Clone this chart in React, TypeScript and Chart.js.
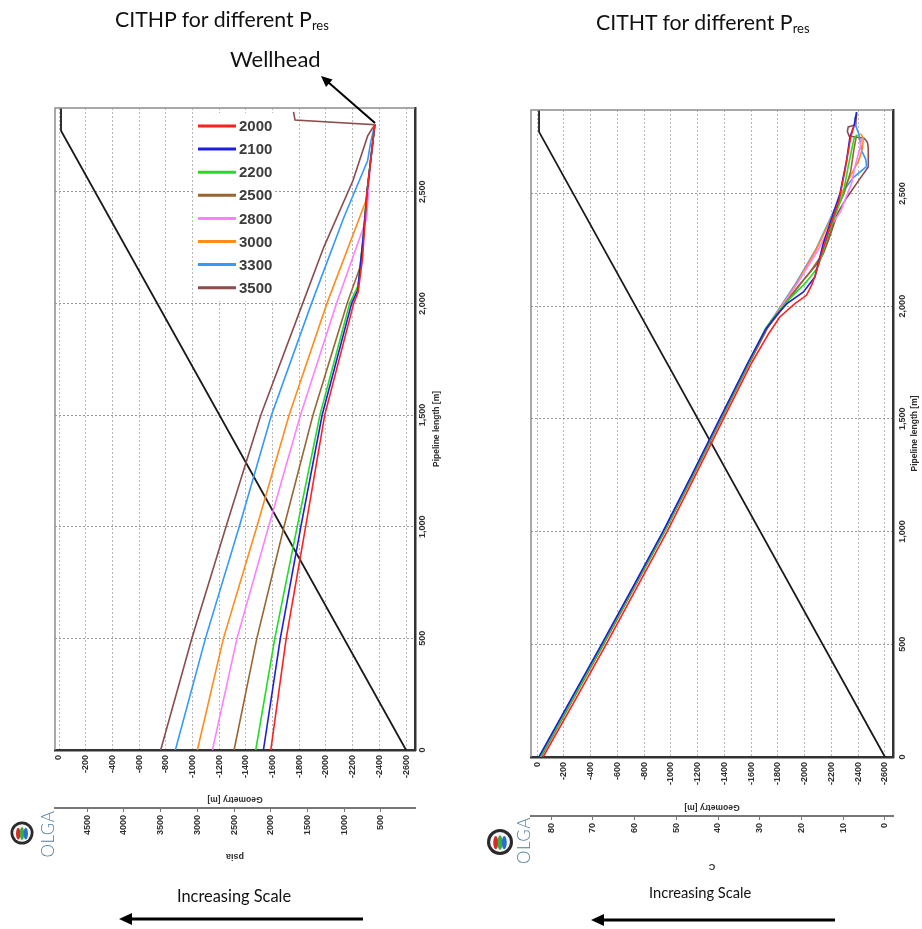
import React, { useEffect, useRef } from "react";
import { Chart, registerables } from "chart.js";

Chart.register(...registerables);

// Reservoir pressure cases (legend labels) and line colours
const PRES_LABELS = ["2000", "2100", "2200", "2500", "2800", "3000", "3300", "3500"];
const PRES_COLORS = ["#ff2020", "#1e1ee0", "#22dd22", "#996633", "#ff80ff", "#ff8c1a", "#3399ff", "#8b4c4c"];

// Tubing pressure [psia] along the pipeline length [m]
const PLEN_2000 = [0, 500, 1000, 1500, 2000, 2050, 2200, 2500, 2800];
const PSIA_2000 = [2000, 1790, 1525, 1265, 870, 810, 750, 688, 583];
const PLEN_2100 = [0, 500, 1000, 1500, 2000, 2060, 2300, 2500, 2800];
const PSIA_2100 = [2100, 1870, 1590, 1300, 898, 815, 740, 688, 583];
const PLEN_2200 = [0, 500, 1000, 1500, 2000, 2080, 2300, 2500, 2800];
const PSIA_2200 = [2205, 1945, 1640, 1330, 925, 810, 740, 690, 583];
const PLEN_2500 = [0, 500, 1000, 1500, 2000, 2180, 2500, 2800];
const PSIA_2500 = [2500, 2190, 1820, 1425, 960, 765, 690, 583];
const PLEN_2800 = [0, 500, 1000, 1500, 2000, 2380, 2600, 2800];
const PSIA_2800 = [2795, 2460, 2030, 1595, 1105, 695, 650, 583];
const PLEN_3000 = [0, 500, 1000, 1500, 2000, 2480, 2650, 2800];
const PSIA_3000 = [3000, 2645, 2190, 1750, 1235, 680, 640, 583];
const PLEN_3300 = [0, 500, 1000, 1500, 2000, 2380, 2640, 2720, 2800];
const PSIA_3300 = [3300, 2890, 2430, 1990, 1445, 1010, 680, 640, 583];
const PLEN_3500 = [0, 500, 1000, 1500, 2000, 2250, 2550, 2750, 2800, 2821, 2858];
const PSIA_3500 = [3500, 3075, 2610, 2135, 1565, 1280, 880, 680, 583, 1670, 1690];

// Tubing temperature [C] along the pipeline length [m]
const TLEN_2000 = [0, 250, 500, 750, 1000, 1250, 1500, 1750, 1880, 1952, 2011, 2048, 2092, 2130, 2220, 2350, 2470, 2600, 2750, 2800];
const TEMP_2000 = [81.9, 74.3, 66.8, 59.5, 52.2, 45.4, 38.7, 31.9, 27.8, 25.2, 21.6, 18.8, 17.6, 16.8, 15.4, 13.2, 11.0, 9.6, 8.2, 7.4];
const TLEN_2100 = [0, 250, 500, 750, 1000, 1250, 1500, 1750, 1900, 1960, 2011, 2062, 2129, 2277, 2410, 2498, 2646, 2749, 2801, 2860];
const TEMP_2100 = [82.9, 75.4, 67.9, 60.5, 53.2, 46.3, 39.6, 32.8, 28.5, 26.0, 23.5, 19.6, 16.8, 14.8, 12.4, 10.8, 9.2, 8.4, 7.4, 6.8];
const TLEN_2200 = [0, 250, 500, 750, 1000, 1250, 1500, 1750, 1900, 1960, 2030, 2100, 2140, 2170, 2230, 2330, 2420, 2500, 2620, 2745, 2760];
const TEMP_2200 = [82.6, 75.1, 67.6, 60.3, 52.9, 46.1, 39.4, 32.6, 28.6, 26.2, 23.0, 19.2, 17.4, 16.2, 15.0, 13.4, 11.6, 10.0, 8.8, 7.4, 6.6];
const TLEN_2500 = [0, 250, 500, 750, 1000, 1250, 1500, 1750, 1900, 1960, 2050, 2150, 2230, 2270, 2330, 2420, 2500, 2600, 2700, 2760];
const TEMP_2500 = [82.4, 74.9, 67.4, 60.1, 52.8, 45.9, 39.2, 32.4, 28.2, 26.0, 22.4, 18.0, 15.0, 14.2, 13.0, 11.8, 9.8, 8.2, 7.4, 6.8];
const TLEN_2800 = [0, 250, 500, 750, 1000, 1250, 1500, 1750, 1900, 1960, 2100, 2250, 2350, 2420, 2480, 2545, 2620, 2700, 2745];
const TEMP_2800 = [82.5, 75.0, 67.5, 60.2, 52.9, 46.0, 39.3, 32.5, 28.3, 26.2, 21.0, 16.0, 13.2, 10.6, 9.4, 8.0, 7.2, 6.0, 5.6];
const TLEN_3000 = [0, 250, 500, 750, 1000, 1250, 1500, 1750, 1900, 1960, 2100, 2250, 2400, 2500, 2580, 2650, 2700, 2745, 2765];
const TEMP_3000 = [82.7, 75.2, 67.7, 60.4, 53.0, 46.1, 39.4, 32.7, 28.5, 26.3, 21.2, 16.5, 12.6, 10.4, 8.2, 6.2, 5.4, 5.2, 5.8];
const TLEN_3300 = [0, 250, 500, 750, 1000, 1250, 1500, 1750, 1900, 1960, 2100, 2250, 2400, 2500, 2570, 2620, 2650, 2690, 2760, 2800, 2840];
const TEMP_3300 = [82.8, 75.3, 67.8, 60.4, 53.1, 46.2, 39.5, 32.8, 28.6, 26.4, 21.4, 16.6, 12.8, 10.4, 7.6, 4.4, 4.6, 5.6, 6.2, 7.0, 7.2];
const TLEN_3500 = [0, 250, 500, 750, 1000, 1250, 1500, 1750, 1900, 1960, 2100, 2180, 2232, 2300, 2410, 2480, 2560, 2617, 2700, 2727, 2745, 2750, 2755, 2775, 2795, 2805, 2860];
const TEMP_3500 = [82.6, 75.1, 67.6, 60.2, 52.9, 46.0, 39.3, 32.5, 28.4, 25.8, 20.2, 16.6, 14.8, 13.4, 11.4, 9.2, 6.2, 4.0, 4.0, 4.2, 5.0, 7.0, 8.6, 9.0, 8.8, 7.0, 6.8];

// Well geometry: elevation [m] against pipeline length [m]
const GEO_LEN = [0, 2773, 2880];
const GEO_ELEV = [-2600, -15, -15];

// Axis ticks
const LENGTH_TICKS = [0, 500, 1000, 1500, 2000, 2500];
const GEO_TICKS = [0, -200, -400, -600, -800, -1000, -1200, -1400, -1600, -1800, -2000, -2200, -2400, -2600];
const PSIA_TICKS = [500, 1000, 1500, 2000, 2500, 3000, 3500, 4000, 4500];
const TEMP_TICKS = [0, 10, 20, 30, 40, 50, 60, 70, 80];

const PSIA_LENS = [PLEN_2000, PLEN_2100, PLEN_2200, PLEN_2500, PLEN_2800, PLEN_3000, PLEN_3300, PLEN_3500];
const PSIA_VALS = [PSIA_2000, PSIA_2100, PSIA_2200, PSIA_2500, PSIA_2800, PSIA_3000, PSIA_3300, PSIA_3500];
const TEMP_LENS = [TLEN_2000, TLEN_2100, TLEN_2200, TLEN_2500, TLEN_2800, TLEN_3000, TLEN_3300, TLEN_3500];
const TEMP_VALS = [TEMP_2000, TEMP_2100, TEMP_2200, TEMP_2500, TEMP_2800, TEMP_3000, TEMP_3300, TEMP_3500];

const TICK_FONT = 'bold 9px "Liberation Sans", Arial, sans-serif';
const TITLE_FONT = 'bold 8.5px "Liberation Sans", Arial, sans-serif';
const TICK_COLOR = "#2e2e2e";

type PanelProps = {
  left: number;
  lens: number[][];
  vals: number[][];
  valTicks: number[];
  valMin: number;
  valMax: number;
  valTitle: string;
  geoMin: number;
  geoMax: number;
  lenMax: number;
  padding: { left: number; top: number; right: number; bottom: number };
  yWidth: number;
  geoHeight: number;
  valHeight: number;
  legend: boolean;
};

// Rotated side labels, upside-down axis titles and the plot frame
const axisTextPlugin = {
  id: "axisText",
  afterDraw(chart: any, _args: any, opts: any) {
    const { ctx, chartArea } = chart;
    const y = chart.scales.y;
    const geo = chart.scales.geo;
    const val = chart.scales.val;
    ctx.save();
    ctx.strokeStyle = "#8c8c8c";
    ctx.lineWidth = 1.5;
    ctx.beginPath();
    ctx.moveTo(chartArea.left, chartArea.bottom);
    ctx.lineTo(chartArea.left, chartArea.top);
    ctx.lineTo(chartArea.right, chartArea.top);
    ctx.stroke();

    ctx.fillStyle = TICK_COLOR;
    ctx.textAlign = "center";
    ctx.textBaseline = "middle";
    ctx.font = TICK_FONT;
    for (const t of y.ticks) {
      const py = y.getPixelForValue(t.value);
      ctx.save();
      ctx.translate(chartArea.right + opts.tickGap, py);
      ctx.rotate(-Math.PI / 2);
      ctx.fillText(Number(t.value).toLocaleString("en-US"), 0, 0);
      ctx.restore();
    }
    ctx.font = TITLE_FONT;
    ctx.save();
    ctx.translate(chartArea.right + opts.titleGap, (chartArea.top + chartArea.bottom) / 2);
    ctx.rotate(-Math.PI / 2);
    ctx.fillText("Pipeline length [m]", 0, 0);
    ctx.restore();

    const cx = (chartArea.left + chartArea.right) / 2;
    ctx.save();
    ctx.translate(cx, geo.top + opts.geoTitleGap);
    ctx.rotate(Math.PI);
    ctx.fillText("Geometry [m]", 0, 0);
    ctx.restore();
    ctx.font = 'bold 9px "Liberation Sans", Arial, sans-serif';
    ctx.save();
    ctx.translate(cx, val.top + opts.valTitleGap);
    ctx.rotate(Math.PI);
    ctx.fillText(opts.valTitle, 0, 0);
    ctx.restore();
    ctx.restore();
  },
};

// Legend box inside the plot area
const legendBoxPlugin = {
  id: "legendBox",
  beforeDatasetsDraw(chart: any, _args: any, opts: any) {
    if (!opts.show) return;
    const { ctx, chartArea } = chart;
    const x0 = chartArea.left + 139;
    const y0 = chartArea.top + 5;
    ctx.save();
    ctx.fillStyle = "#fff";
    ctx.fillRect(x0, y0, 79, 188);
    ctx.font = 'bold 15px "Liberation Sans", Arial, sans-serif';
    ctx.textBaseline = "middle";
    ctx.textAlign = "left";
    let row = 0;
    chart.data.datasets.forEach((ds: any) => {
      if (!ds.label) return;
      const yy = y0 + 13 + row * 23.1;
      ctx.strokeStyle = ds.borderColor;
      ctx.lineWidth = 3;
      ctx.beginPath();
      ctx.moveTo(x0 + 4, yy);
      ctx.lineTo(x0 + 42, yy);
      ctx.stroke();
      ctx.fillStyle = "#3c3c3c";
      ctx.fillText(ds.label, x0 + 45, yy + 1);
      row += 1;
    });
    ctx.restore();
  },
};

function fixedTicks(values: number[]) {
  return (scale: any) => {
    scale.ticks = values.map((v) => ({ value: v }));
  };
}

function Panel(props: PanelProps) {
  const ref = useRef<HTMLCanvasElement | null>(null);
  useEffect(() => {
    if (!ref.current) return;
    const datasets: any[] = props.lens.map((len, i) => ({
      label: PRES_LABELS[i],
      data: len.map((L, k) => ({ x: props.vals[i][k], y: L })),
      xAxisID: "val",
      yAxisID: "y",
      borderColor: PRES_COLORS[i],
      borderWidth: 1.6,
      pointRadius: 0,
      fill: false,
      tension: 0,
    }));
    datasets.push({
      label: "",
      data: GEO_LEN.map((L, k) => ({ x: GEO_ELEV[k], y: L })),
      xAxisID: "geo",
      yAxisID: "y",
      borderColor: "#1a1a1a",
      borderWidth: 1.8,
      pointRadius: 0,
      fill: false,
      tension: 0,
    });
    const rotatedTicks = {
      minRotation: 90,
      maxRotation: 90,
      autoSkip: false,
      color: TICK_COLOR,
      font: { family: '"Liberation Sans", Arial, sans-serif', size: 9, weight: "bold" },
      callback: (v: any) => String(v),
    };
    const chart = new Chart(ref.current, {
      type: "line",
      data: { datasets },
      plugins: [legendBoxPlugin, axisTextPlugin],
      options: {
        animation: false,
        responsive: false,
        devicePixelRatio: 1,
        events: [],
        layout: { padding: props.padding, autoPadding: false },
        plugins: {
          legend: { display: false },
          tooltip: { enabled: false },
          legendBox: { show: props.legend },
          axisText: {
            tickGap: props.legend ? 8 : 10,
            titleGap: 22,
            geoTitleGap: props.legend ? 49 : 50,
            valTitleGap: props.legend ? 48 : 50,
            valTitle: props.valTitle,
          },
        } as any,
        scales: {
          geo: {
            type: "linear",
            axis: "x",
            position: "bottom",
            reverse: true,
            min: props.geoMin,
            max: props.geoMax,
            weight: 0,
            afterBuildTicks: fixedTicks(GEO_TICKS),
            afterFit: (s: any) => {
              s.height = props.geoHeight;
            },
            ticks: { ...rotatedTicks, padding: 5 },
            grid: { color: "#b8b8b8", lineWidth: 1, drawTicks: false },
            border: { color: "#333", width: 2.5, dash: [2, 2] },
          },
          val: {
            type: "linear",
            axis: "x",
            position: "bottom",
            reverse: true,
            min: props.valMin,
            max: props.valMax,
            weight: 1,
            afterBuildTicks: fixedTicks(props.valTicks),
            afterFit: (s: any) => {
              s.height = props.valHeight;
            },
            ticks: { ...rotatedTicks, padding: 3 },
            grid: { drawOnChartArea: false, drawTicks: true, tickLength: 4, color: "#777" },
            border: { color: "#777", width: 2 },
          },
          y: {
            type: "linear",
            position: "right",
            min: 0,
            max: props.lenMax,
            afterBuildTicks: fixedTicks(LENGTH_TICKS),
            afterFit: (s: any) => {
              s.width = props.yWidth;
            },
            ticks: { display: false },
            grid: { color: "#9a9a9a", lineWidth: 1, drawTicks: false },
            border: { color: "#333", width: 2.5, dash: [2, 2] },
          },
        } as any,
      },
    } as any);
    return () => chart.destroy();
  }, []);
  return (
    <canvas
      ref={ref}
      width={461}
      height={929}
      style={{ position: "absolute", left: props.left, top: 0, width: 461, height: 929 }}
    />
  );
}

function OlgaLogo({ cx, cy, r, tx, ty }: { cx: number; cy: number; r: number; tx: number; ty: number }) {
  const k = r / 11;
  return (
    <g>
      <circle cx={cx} cy={cy} r={r} fill="#2a2a2a" />
      <circle cx={cx} cy={cy} r={r - 2.6 * k} fill="#f4f4f4" />
      <ellipse cx={cx - 3.6 * k} cy={cy + 0.5 * k} rx={2.1 * k} ry={5.6 * k} fill="#d42a2a" />
      <ellipse cx={cx} cy={cy + 0.5 * k} rx={2.1 * k} ry={6.2 * k} fill="#3cae3c" />
      <ellipse cx={cx + 3.6 * k} cy={cy + 0.5 * k} rx={2.1 * k} ry={5.6 * k} fill="#2a6fd0" />
      <text
        x={tx}
        y={ty}
        transform={`rotate(-90 ${tx} ${ty})`}
        textAnchor="middle"
        dominantBaseline="central"
        fill="#4f7f98"
        fontFamily="Lato, sans-serif"
        fontWeight={300}
        fontSize={17}
        letterSpacing={0.5}
      >
        OLGA
      </text>
    </g>
  );
}

export default function App() {
  const textBase: React.CSSProperties = {
    position: "absolute",
    fontFamily: "Lato, sans-serif",
    color: "#111",
    whiteSpace: "nowrap",
    lineHeight: 1,
  };
  return (
    <div style={{ position: "absolute", left: 0, top: 0, width: 922, height: 929, background: "#fff", overflow: "hidden" }}>
      <Panel
        left={0}
        lens={PSIA_LENS}
        vals={PSIA_VALS}
        valTicks={PSIA_TICKS}
        valMin={35}
        valMax={4940}
        valTitle="psia"
        geoMin={-2667}
        geoMax={30}
        lenMax={2875}
        padding={{ left: 55, top: 108, right: 16, bottom: 59 }}
        yWidth={30}
        geoHeight={58}
        valHeight={62}
        legend={true}
      />
      <Panel
        left={461}
        lens={TEMP_LENS}
        vals={TEMP_VALS}
        valTicks={TEMP_TICKS}
        valMin={-1.92}
        valMax={84.8}
        valTitle="C"
        geoMin={-2660}
        geoMax={45}
        lenMax={2870}
        padding={{ left: 70, top: 110, right: 2, bottom: 54 }}
        yWidth={27}
        geoHeight={59}
        valHeight={59}
        legend={false}
      />

      <div style={{ ...textBase, left: 115, top: 8.5, fontSize: 21.3 }}>
        CITHP for different P<span style={{ fontSize: 13, position: "relative", top: 3 }}>res</span>
      </div>
      <div style={{ ...textBase, left: 596, top: 11.5, fontSize: 21.3 }}>
        CITHT for different P<span style={{ fontSize: 13, position: "relative", top: 3 }}>res</span>
      </div>
      <div style={{ ...textBase, left: 230, top: 48, fontSize: 22 }}>Wellhead</div>
      <div style={{ ...textBase, left: 177, top: 887.5, fontSize: 16.4 }}>Increasing Scale</div>
      <div style={{ ...textBase, left: 649, top: 884.5, fontSize: 14.7 }}>Increasing Scale</div>

      <svg width={922} height={929} style={{ position: "absolute", left: 0, top: 0, pointerEvents: "none" }}>
        <line x1={375} y1={123} x2={328} y2={82} stroke="#000" strokeWidth={2} />
        <polygon points="321,76 332.6,79.4 326,87" fill="#000" />
        <line x1={363} y1={919} x2={128} y2={919} stroke="#000" strokeWidth={3} />
        <polygon points="119,919 132,913 132,925" fill="#000" />
        <line x1={835} y1={920} x2={600} y2={920} stroke="#000" strokeWidth={3} />
        <polygon points="591,920 604,914 604,926" fill="#000" />
        <OlgaLogo cx={22} cy={833} r={11.5} tx={47.5} ty={834} />
        <OlgaLogo cx={500} cy={842} r={13} tx={523} ty={840.5} />
      </svg>
    </div>
  );
}
